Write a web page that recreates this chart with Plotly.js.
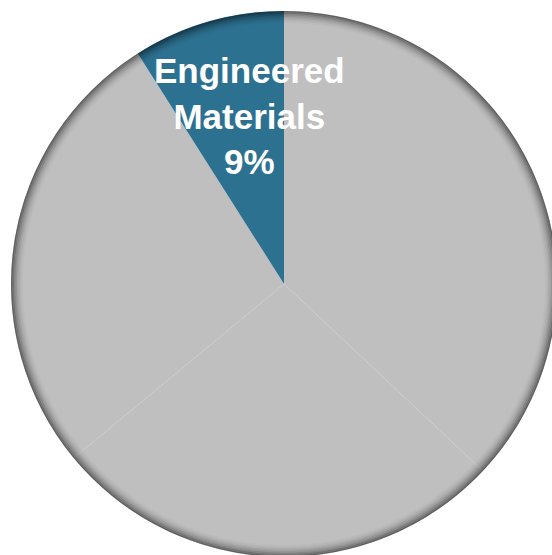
<!DOCTYPE html>
<html>
<head>
<meta charset="utf-8">
<script src="https://cdn.plot.ly/plotly-3.0.1.min.js"></script>
<style>
html, body { margin: 0; padding: 0; overflow: hidden; background: #ffffff; }
#chart { width: 568px; height: 568px; }
</style>
</head>
<body>
<div id="chart"></div>
<script>
// Data (clockwise from 12 o'clock)
const labels = ["Segment A", "Segment B", "Segment C", "Engineered Materials"];
const values = [37, 27, 27, 9];
const colors = ["#bfbfbf", "#bfbfbf", "#bfbfbf", "#2d7191"];
const shownLabel = "Engineered Materials";

const idx = labels.indexOf(shownLabel);
const total = values.reduce((a, b) => a + b, 0);
const pct = Math.round(values[idx] / total * 100) + "%";

// Rim inner-shadow rings (decorative)
const plotSize = 546;
const rimInsets = [0.75, 2.25, 3.75, 5.25, 6.75, 8.25, 9.75, 11.25];
const rimAlphas = [0.5, 0.4, 0.3, 0.22, 0.15, 0.09, 0.05, 0.02];
const shapes = rimInsets.map((d, i) => ({
  type: "circle", xref: "paper", yref: "paper",
  x0: d / plotSize, x1: 1 - d / plotSize,
  y0: d / plotSize, y1: 1 - d / plotSize,
  line: { color: "rgba(0,0,0," + rimAlphas[i] + ")", width: 1.5 },
  fillcolor: "rgba(0,0,0,0)", layer: "above"
}));

const trace = {
  type: "pie",
  labels: labels,
  values: values,
  sort: false,
  direction: "clockwise",
  rotation: 0,
  marker: { colors: colors, line: { width: 0 } },
  textinfo: "none",
  hoverinfo: "label+percent",
  showlegend: false
};

const layout = {
  width: 568, height: 568,
  margin: { l: 11, r: 11, t: 11, b: 11, pad: 0 },
  paper_bgcolor: "#ffffff",
  showlegend: false,
  shapes: shapes,
  annotations: [{
    xref: "paper", yref: "paper",
    x: 0.4377, y: 0.808,
    xanchor: "center", yanchor: "middle",
    text: shownLabel.split(" ").join("<br>") + "<br>" + pct,
    showarrow: false,
    align: "center",
    font: { family: "Liberation Sans, Arial, sans-serif", size: 35, color: "#ffffff", weight: "bold" }
  }]
};

Plotly.newPlot("chart", [trace], layout, { displayModeBar: false, staticPlot: true });
</script>
</body>
</html>
